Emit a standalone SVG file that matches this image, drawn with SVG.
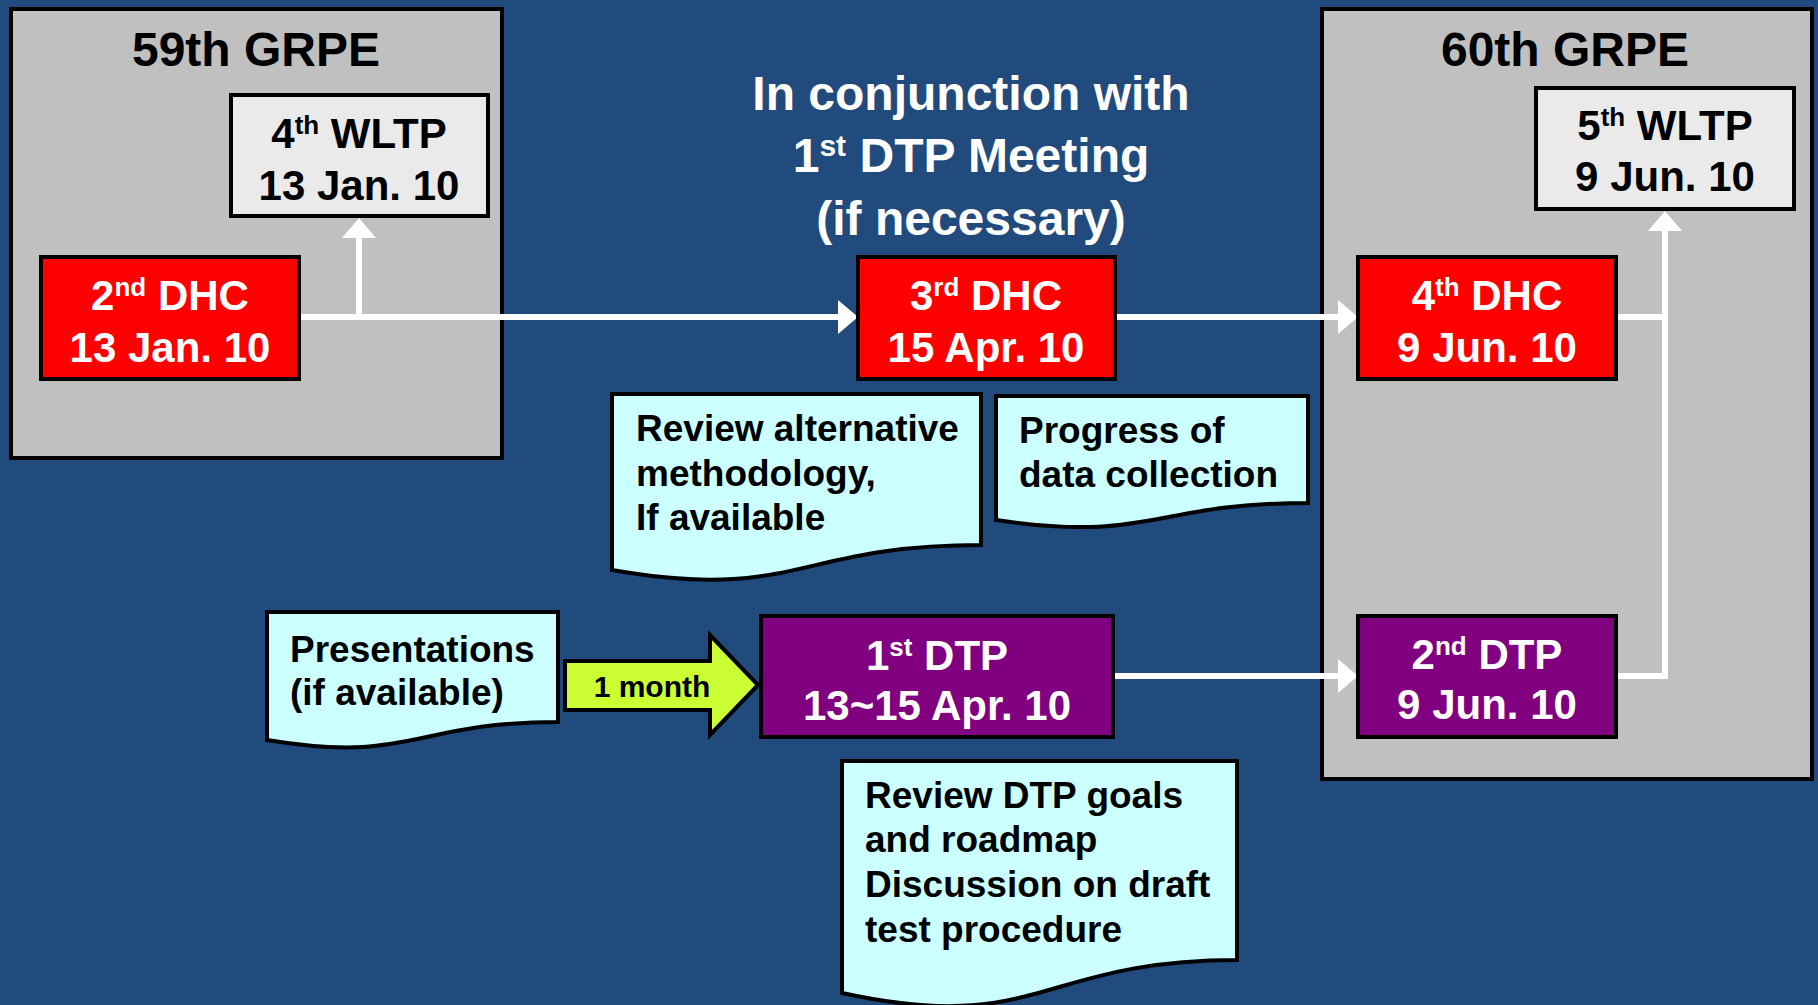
<svg xmlns="http://www.w3.org/2000/svg" width="1818" height="1005" viewBox="0 0 1818 1005">
<defs>
<style>
.t{font-family:"Liberation Sans",Arial,sans-serif;font-weight:bold}
.grp{fill:#c0c0c0;stroke:#000;stroke-width:4}
.wltp{fill:#eaeaea;stroke:#000;stroke-width:4}
.dhc{fill:#ff0000;stroke:#000;stroke-width:4}
.dtp{fill:#800080;stroke:#000;stroke-width:4}
.doc{fill:#ccffff;stroke:#000;stroke-width:4;stroke-linejoin:miter}
.conn{fill:none;stroke:#fff;stroke-width:6;stroke-linejoin:miter}
.bk{fill:#000}
.wh{fill:#fff}
</style>
<marker id="ah" markerUnits="userSpaceOnUse" markerWidth="20" markerHeight="34" refX="10" refY="17" orient="auto" viewBox="0 0 20 34">
<path d="M0,0 L20,17 L0,34 Z" fill="#fff"/>
</marker>
</defs>
<rect x="0" y="0" width="1818" height="1005" fill="#214a7d"/>

<g id="grpe59">
<rect class="grp" x="11" y="9" width="491" height="449"/>
<text class="t bk" x="256" y="66" font-size="48" text-anchor="middle">59th GRPE</text>
</g>
<g id="grpe60">
<rect class="grp" x="1322" y="9" width="490" height="770"/>
<text class="t bk" x="1565" y="66" font-size="48" text-anchor="middle">60th GRPE</text>
</g>

<g id="connectors">
<path class="conn" d="M299,317 H848" marker-end="url(#ah)"/>
<path class="conn" d="M359,317 V228" marker-end="url(#ah)"/>
<path class="conn" d="M1115,317 H1348" marker-end="url(#ah)"/>
<path class="conn" d="M1113,676 H1348" marker-end="url(#ah)"/>
<path class="conn" d="M1616,317 H1665"/>
<path class="conn" d="M1616,676 H1665 V221" marker-end="url(#ah)"/>
</g>

<g id="wltp4">
<rect class="wltp" x="231" y="95" width="257" height="121"/>
<text class="t bk" x="359" y="148" font-size="42" text-anchor="middle">4<tspan font-size="26" dy="-14">th</tspan><tspan dy="14"> WLTP</tspan></text>
<text class="t bk" x="359" y="200" font-size="42" text-anchor="middle">13 Jan. 10</text>
</g>
<g id="wltp5">
<rect class="wltp" x="1536" y="88" width="258" height="121"/>
<text class="t bk" x="1665" y="140" font-size="42" text-anchor="middle">5<tspan font-size="26" dy="-14">th</tspan><tspan dy="14"> WLTP</tspan></text>
<text class="t bk" x="1665" y="191" font-size="42" text-anchor="middle">9 Jun. 10</text>
</g>

<g id="dhc2">
<rect class="dhc" x="41" y="257" width="258" height="122"/>
<text class="t wh" x="170" y="310" font-size="42" text-anchor="middle">2<tspan font-size="26" dy="-14">nd</tspan><tspan dy="14"> DHC</tspan></text>
<text class="t wh" x="170" y="362" font-size="42" text-anchor="middle">13 Jan. 10</text>
</g>
<g id="dhc3">
<rect class="dhc" x="858" y="257" width="257" height="122"/>
<text class="t wh" x="986" y="310" font-size="42" text-anchor="middle">3<tspan font-size="26" dy="-14">rd</tspan><tspan dy="14"> DHC</tspan></text>
<text class="t wh" x="986" y="362" font-size="42" text-anchor="middle">15 Apr. 10</text>
</g>
<g id="dhc4">
<rect class="dhc" x="1358" y="257" width="258" height="122"/>
<text class="t wh" x="1487" y="310" font-size="42" text-anchor="middle">4<tspan font-size="26" dy="-14">th</tspan><tspan dy="14"> DHC</tspan></text>
<text class="t wh" x="1487" y="362" font-size="42" text-anchor="middle">9 Jun. 10</text>
</g>

<g id="dtp1">
<rect class="dtp" x="761" y="616" width="352" height="121"/>
<text class="t wh" x="937" y="670" font-size="42" text-anchor="middle">1<tspan font-size="26" dy="-14">st</tspan><tspan dy="14"> DTP</tspan></text>
<text class="t wh" x="937" y="720" font-size="42" text-anchor="middle">13~15 Apr. 10</text>
</g>
<g id="dtp2">
<rect class="dtp" x="1358" y="616" width="258" height="121"/>
<text class="t wh" x="1487" y="669" font-size="42" text-anchor="middle">2<tspan font-size="26" dy="-14">nd</tspan><tspan dy="14"> DTP</tspan></text>
<text class="t wh" x="1487" y="719" font-size="42" text-anchor="middle">9 Jun. 10</text>
</g>

<g id="note-conjunction">
<text class="t wh" x="971" y="110" font-size="48" text-anchor="middle">In conjunction with</text>
<text class="t wh" x="971" y="172" font-size="48" text-anchor="middle">1<tspan font-size="30" dy="-16">st</tspan><tspan dy="16"> DTP Meeting</tspan></text>
<text class="t wh" x="971" y="235" font-size="48" text-anchor="middle">(if necessary)</text>
</g>

<g id="doc-review-alt">
<path class="doc" d="M612,394 H981 V545 C796.5,545 796.5,602 612,570 Z"/>
<text class="t bk" x="636" y="441" font-size="37">Review alternative</text>
<text class="t bk" x="636" y="486" font-size="37">methodology,</text>
<text class="t bk" x="636" y="530" font-size="37">If available</text>
</g>
<g id="doc-progress">
<path class="doc" d="M996,396 H1308 V503 C1152,503 1152,543 996,520 Z"/>
<text class="t bk" x="1019" y="443" font-size="37">Progress of</text>
<text class="t bk" x="1019" y="487" font-size="37">data collection</text>
</g>
<g id="doc-presentations">
<path class="doc" d="M267,612 H558 V722 C412.5,722 412.5,764 267,740 Z"/>
<text class="t bk" x="290" y="662" font-size="37">Presentations</text>
<text class="t bk" x="290" y="705" font-size="37">(if available)</text>
</g>
<g id="doc-review-dtp">
<path class="doc" d="M842,761 H1237 V960 C1039.5,960 1039.5,1036 842,993 Z"/>
<text class="t bk" x="865" y="808" font-size="37">Review DTP goals</text>
<text class="t bk" x="865" y="852" font-size="37">and roadmap</text>
<text class="t bk" x="865" y="897" font-size="37">Discussion on draft</text>
<text class="t bk" x="865" y="942" font-size="37">test procedure</text>
</g>

<g id="arrow-1month">
<polygon points="565,661 710,661 710,635 758,685 710,735 710,710 565,710" fill="#ccff33" stroke="#000" stroke-width="4" stroke-linejoin="miter"/>
<text class="t bk" x="652" y="697" font-size="30" text-anchor="middle">1 month</text>
</g>
</svg>
